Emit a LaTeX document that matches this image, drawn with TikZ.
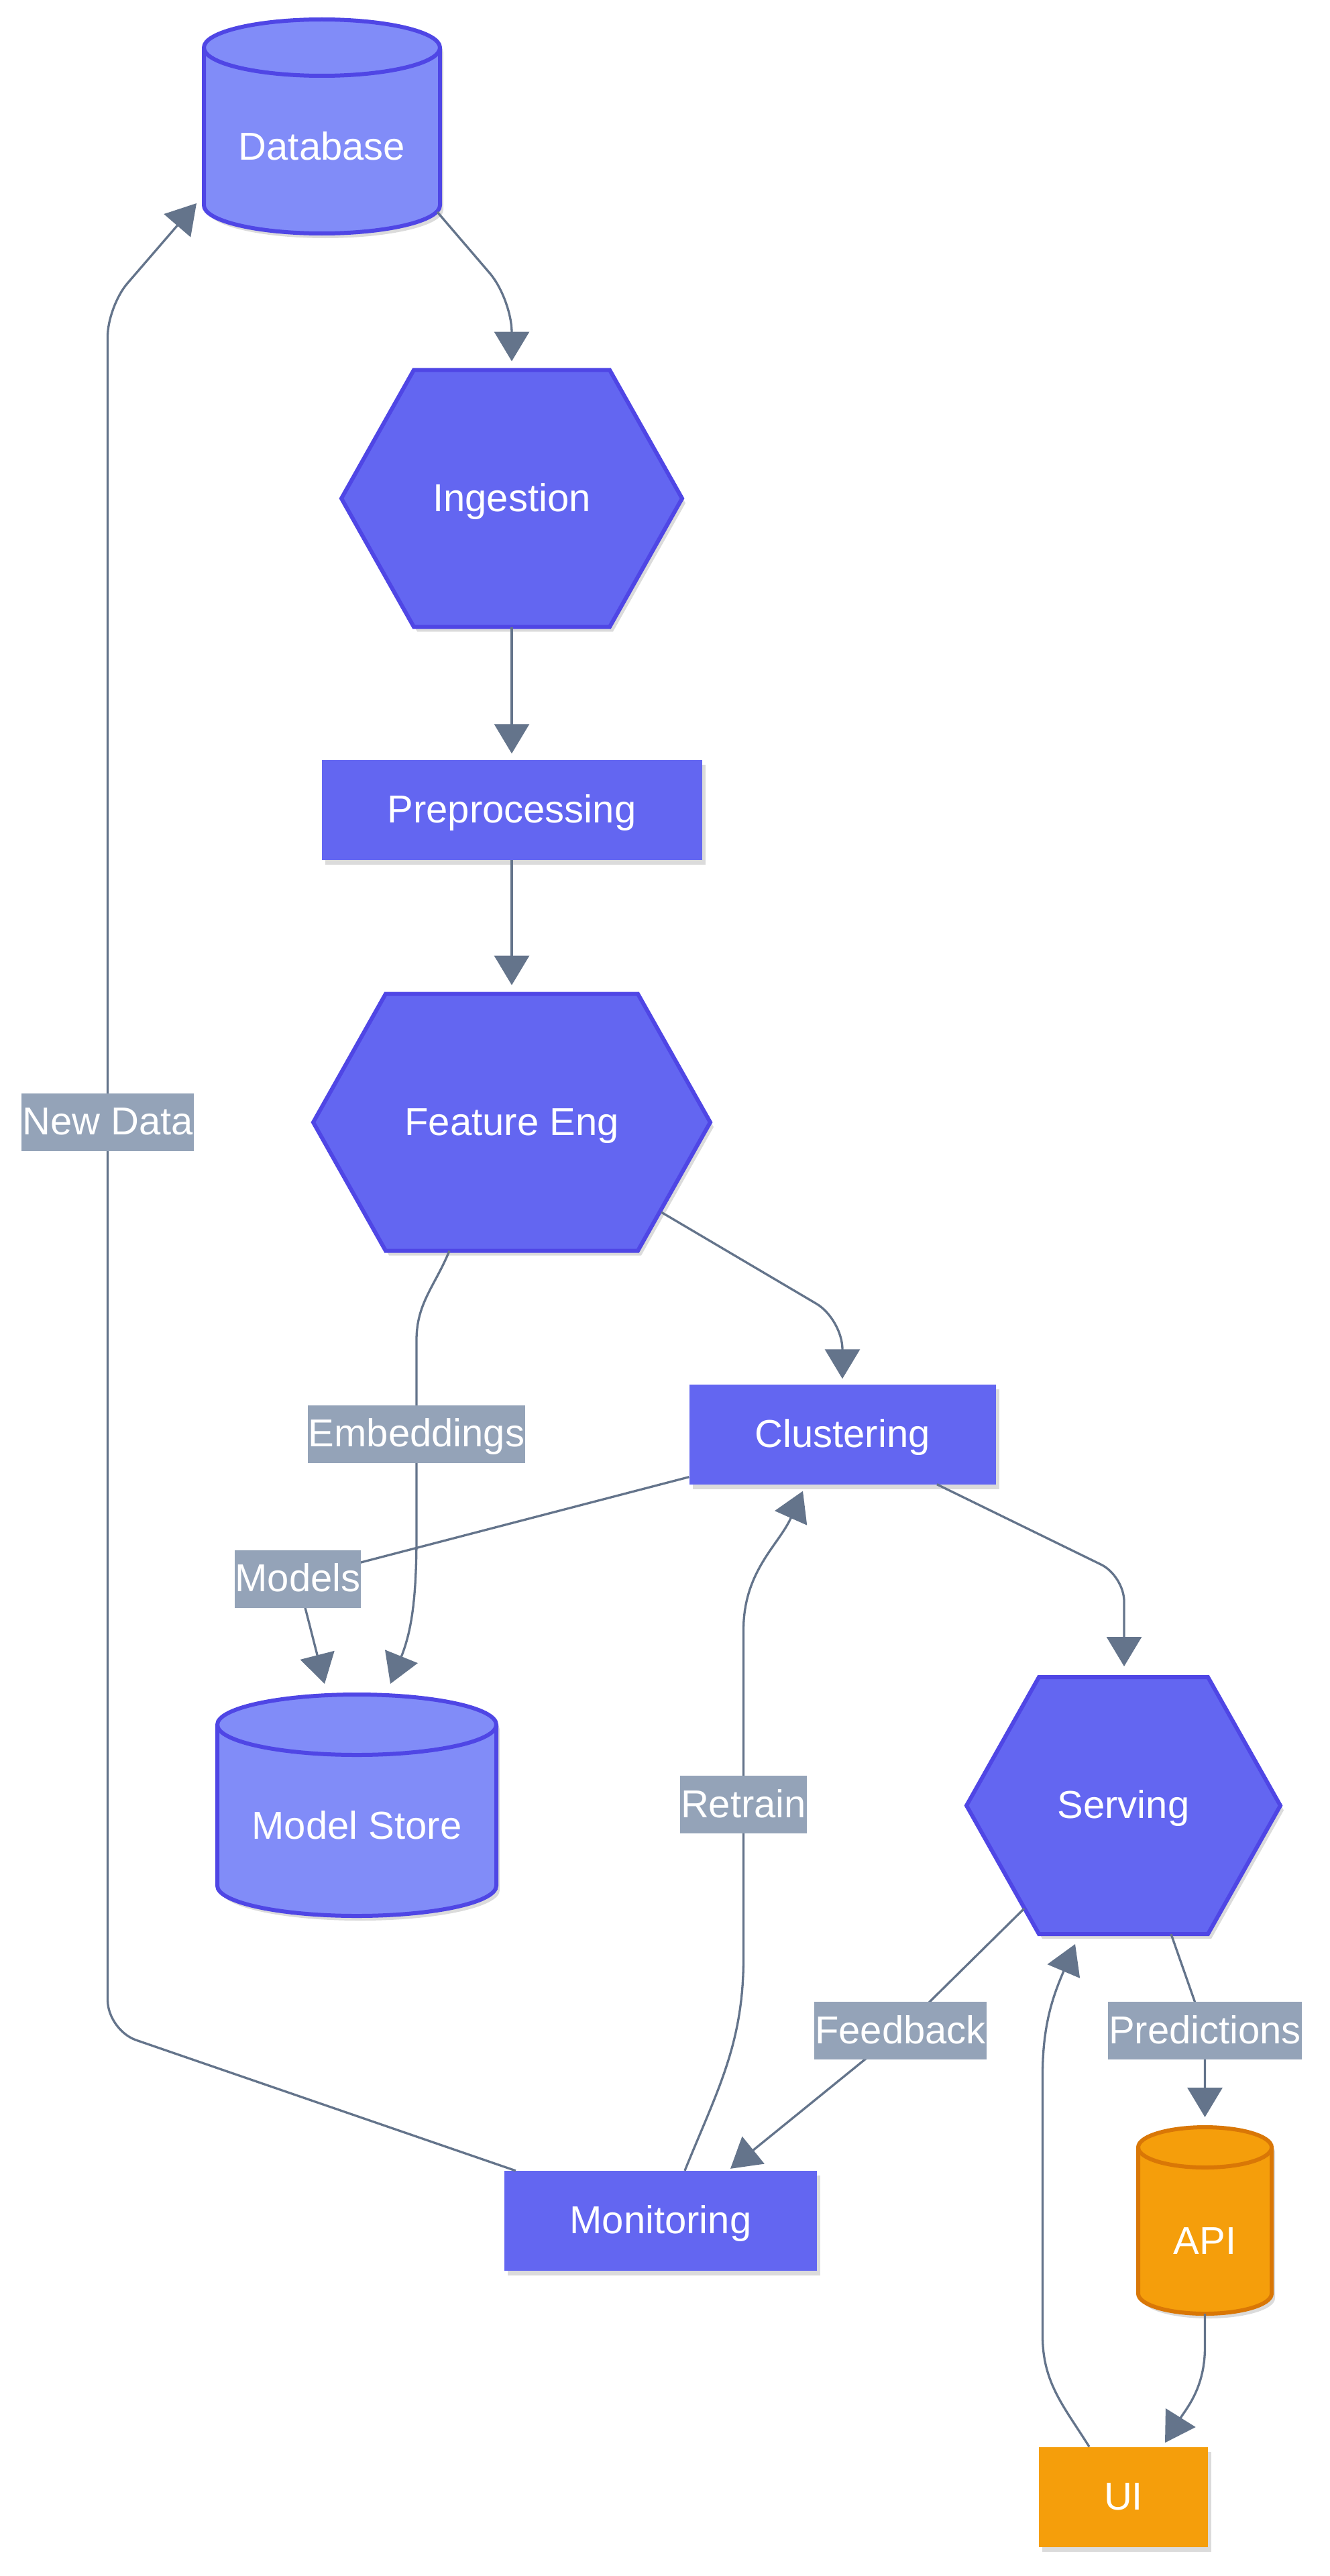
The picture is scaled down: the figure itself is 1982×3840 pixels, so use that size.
\documentclass[tikz,border=0pt]{standalone}
\usepackage{fontspec}
\setmainfont{Liberation Sans}
\usetikzlibrary{arrows.meta,shadows}

\definecolor{nodefill}{HTML}{6366F1}
\definecolor{nodeline}{HTML}{4F46E5}
\definecolor{cylfill}{HTML}{818CF8}
\definecolor{orangefill}{HTML}{F59E0B}
\definecolor{orangeline}{HTML}{D97706}
\definecolor{edgecol}{HTML}{64748B}
\definecolor{labelcol}{HTML}{94A3B8}

\tikzset{
  bigfont/.style={font=\fontsize{58}{70}\selectfont, text=white, text height=52pt, text depth=14pt},
  softshadow/.style={drop shadow={shadow xshift=5pt, shadow yshift=-7pt, opacity=0.14, fill=black}},
  hold/.style={inner sep=0pt, outer sep=0pt},
  txt/.style={bigfont, inner sep=0pt},
  hexline/.style={draw=nodeline, fill=nodefill, line width=6pt, softshadow},
  dbblue/.style={draw=nodeline, fill=cylfill, line width=6pt},
  dborange/.style={draw=orangeline, fill=orangefill, line width=6pt},
  proc/.style={rectangle, fill=nodefill, bigfont, inner sep=0pt, minimum height=149pt, softshadow},
  lbl/.style={fill=labelcol, bigfont, inner xsep=1pt, inner ysep=0pt, minimum height=86pt},
  link/.style={draw=edgecol, line width=3.3pt, line join=round, -{Triangle[length=44pt,width=52pt]}}
}

% hexagon: name, position, width, text
\newcommand{\hexnode}[4]{%
  \node[hold, minimum width=#3pt, minimum height=383pt] (#1) at (#2) {};
  \draw[hexline] ([xshift=108pt]#1.north west) -- ([xshift=-108pt]#1.north east) -- (#1.east)
    -- ([xshift=-108pt]#1.south east) -- ([xshift=108pt]#1.south west) -- (#1.west) -- cycle;
  \node[txt] (#1text) at (#1.center) {#4};
}

% cylinder: name, position, width, height, ellipse radius, style, text
\newcommand{\dbnode}[7]{%
  \node[hold, minimum width=#3pt, minimum height=#4pt] (#1) at (#2) {};
  \draw[#6, softshadow] ([yshift=-#5pt]#1.north west) -- ([yshift=#5pt]#1.south west)
    arc[start angle=180, end angle=360, x radius=#3/2, y radius=#5]
    -- ([yshift=-#5pt]#1.north east)
    arc[start angle=0, end angle=180, x radius=#3/2, y radius=#5] -- cycle;
  \draw[#6, fill=none] ([yshift=-#5pt]#1.north west) arc[start angle=180, end angle=360, x radius=#3/2, y radius=#5];
  \node[txt] (#1text) at ([yshift=-31pt]#1.center) {#7};
}

\begin{document}
\begin{tikzpicture}[x=1pt, y=1pt]
\useasboundingbox[fill=white] (0,0) rectangle (1982,-3840);

\dbnode{db}{480,-188.5}{352}{319}{42}{dbblue}{Database}
\hexnode{ing}{763,-743}{508}{Ingestion}
\node[proc, minimum width=567pt] (pre) at (763,-1207) {Preprocessing};
\hexnode{feat}{763,-1673}{592}{Feature Eng}
\node[proc, minimum width=457pt] (clu) at (1256,-2138) {Clustering};
\dbnode{ms}{532,-2691}{416}{330}{45}{dbblue}{Model Store}
\hexnode{serv}{1675,-2691.5}{468}{Serving}
\node[proc, minimum width=466pt] (mon) at (985,-3310.5) {Monitoring};
\dbnode{api}{1796.5,-3310}{199}{278}{30}{dborange}{API}
\node[proc, fill=orangefill, minimum width=252pt] (ui) at (1675,-3722) {UI};

% label places
\coordinate (ndc) at (160.5,-1672.5);
\coordinate (embc) at (621,-2137.5);
\coordinate (modc) at (444,-2353.5);
\coordinate (retc) at (1108.5,-2690);
\coordinate (fbc) at (1342.5,-3027);
\coordinate (predc) at (1796.5,-3027);

\draw[link, rounded corners=50pt] ([xshift=-4pt,yshift=32pt]db.south east) -- ([yshift=106pt]ing.north) -- ([yshift=13pt]ing.north);
\draw[link] (ing.south) -- ([yshift=9pt]pre.north);
\draw[link] (pre.south) -- ([yshift=13pt]feat.north);
\draw[link, rounded corners=45pt] ([xshift=-73pt,yshift=-134pt]feat.east) -- ([yshift=97pt]clu.north) -- ([yshift=8pt]clu.north);
\draw[link] ([xshift=-93pt]feat.south) to[out=-112,in=90] ([yshift=140pt]embc) -- ([yshift=-150pt]embc) to[out=-90,in=68] ([xshift=50pt,yshift=16pt]ms.north);
\draw[link, rounded corners=15pt] ([yshift=11pt]clu.south west) -- (modc) -- ([xshift=-48pt,yshift=16pt]ms.north);
\draw[link, rounded corners=38pt] ([xshift=141pt]clu.south) -- ([xshift=1pt,yshift=151pt]serv.north) -- ([xshift=1pt,yshift=16pt]serv.north);
\draw[link] ([xshift=36pt]mon.north) to[out=68,in=-90] ([yshift=-229pt]retc) -- ([yshift=260pt]retc) to[out=90,in=-114] ([xshift=-59pt,yshift=-10pt]clu.south);
\draw[link, rounded corners=20pt] ([xshift=-148pt,yshift=38pt]serv.south) -- (fbc) -- ([xshift=104pt,yshift=3pt]mon.north);
\draw[link, rounded corners=30pt] ([xshift=71pt]serv.south) -- (predc) -- ([yshift=15pt]api.north);
\draw[link] (api.south) -- ++(0,-50) to[out=-90,in=58] ([xshift=62pt,yshift=6pt]ui.north);
\draw[link] ([xshift=-51pt]ui.north) to[out=122,in=-90] ([xshift=-120.5pt,yshift=165pt]ui.north) -- ([xshift=-120.5pt,yshift=-209pt]serv.south) to[out=90,in=-113] ([xshift=-72pt,yshift=-15pt]serv.south);
\draw[link, rounded corners=45pt] ([xshift=17pt]mon.north west) -- ([yshift=-1354pt]ndc) -- ([yshift=1216pt]ndc) -- ([xshift=-11pt,yshift=45pt]db.south west);

\node[lbl] (nd) at (ndc) {New Data};
\node[lbl] (emb) at (embc) {Embeddings};
\node[lbl] (mod) at (modc) {Models};
\node[lbl] (ret) at (retc) {Retrain};
\node[lbl] (fb) at (fbc) {Feedback};
\node[lbl] (pred) at (predc) {Predictions};
\end{tikzpicture}
\end{document}
